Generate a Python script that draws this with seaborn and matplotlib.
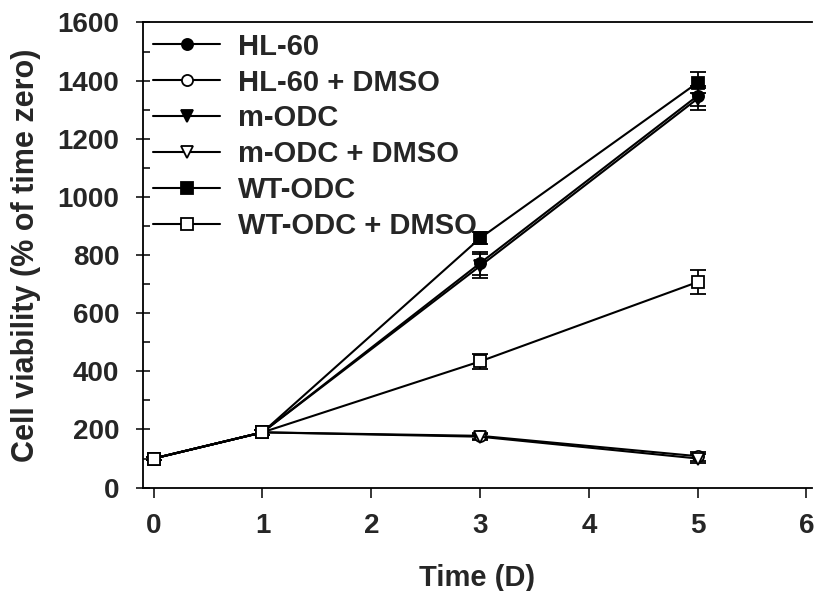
import matplotlib
matplotlib.use("Agg")
import matplotlib.pyplot as plt
import seaborn as sns
import pandas as pd

days = [0, 1, 3, 5]
series_names = ["HL-60", "HL-60 + DMSO", "m-ODC", "m-ODC + DMSO", "WT-ODC", "WT-ODC + DMSO"]
hl60 = [100, 190, 772, 1348]
hl60_dmso = [100, 190, 178, 108]
m_odc = [100, 190, 762, 1338]
m_odc_dmso = [100, 190, 175, 100]
wt_odc = [100, 190, 858, 1393]
wt_odc_dmso = [100, 190, 434, 707]

hl60_err = [5, 8, 40, 35]
hl60_dmso_err = [5, 8, 10, 15]
m_odc_err = [5, 8, 40, 38]
m_odc_dmso_err = [5, 8, 10, 15]
wt_odc_err = [5, 8, 20, 35]
wt_odc_dmso_err = [5, 8, 25, 40]

values = [hl60, hl60_dmso, m_odc, m_odc_dmso, wt_odc, wt_odc_dmso]
errors = [hl60_err, hl60_dmso_err, m_odc_err, m_odc_dmso_err, wt_odc_err, wt_odc_dmso_err]

rows = []
for name, vals, errs in zip(series_names, values, errors):
    for d, v, e in zip(days, vals, errs):
        rows.append({"Time": d, "Viability": v, "err": e, "Cell": name})
df = pd.DataFrame(rows)

sns.set_style("ticks")
plt.rcParams['font.family'] = ['Liberation Sans', 'DejaVu Sans']
plt.rcParams['font.weight'] = 'bold'

marker_map = {"HL-60": "o", "HL-60 + DMSO": "o", "m-ODC": "v", "m-ODC + DMSO": "v",
              "WT-ODC": "s", "WT-ODC + DMSO": "s"}
face_map = {"HL-60": "black", "HL-60 + DMSO": "white", "m-ODC": "black", "m-ODC + DMSO": "white",
            "WT-ODC": "black", "WT-ODC + DMSO": "white"}
size_map = {"o": 8, "v": 9, "s": 9}

fig = plt.figure(figsize=(8.16, 5.91), dpi=100)
ax = fig.add_axes([0.175, 0.175, 0.82, 0.787])

# error bars first, lines and markers on top
for name in series_names:
    sub = df[df["Cell"] == name]
    ax.errorbar(sub["Time"], sub["Viability"], yerr=sub["err"], fmt="none",
                ecolor="black", elinewidth=1.3, capsize=6, capthick=1.3, zorder=2)

for name in series_names:
    sub = df[df["Cell"] == name]
    m = marker_map[name]
    sns.lineplot(data=sub, x="Time", y="Viability", ax=ax, color="black", linewidth=1.5,
                 marker=m, markersize=size_map[m], markerfacecolor=face_map[name],
                 markeredgecolor="black", markeredgewidth=1.3, label=name, zorder=3)

ax.set_xlim(-0.1, 6.05)
ax.set_ylim(0, 1600)
ax.set_xticks([0, 1, 2, 3, 4, 5, 6])
ax.set_yticks(range(0, 1601, 200))
ax.set_yticks(range(100, 1600, 200), minor=True)
ax.tick_params(axis="y", which="major", labelsize=20, length=10, width=1.3,
               direction="inout", pad=12)
ax.tick_params(axis="y", which="minor", length=5, width=1.3, direction="in")
ax.tick_params(axis="x", which="major", labelsize=20, length=7, width=1.3,
               direction="out", pad=11)
for lab in ax.get_xticklabels() + ax.get_yticklabels():
    lab.set_fontweight("bold")

ax.set_xlabel("Time (D)", fontsize=21, fontweight="bold", labelpad=18)
ax.set_ylabel("Cell viability (% of time zero)", fontsize=22, fontweight="bold", labelpad=12)

for side in ["left", "bottom", "top"]:
    ax.spines[side].set_linewidth(1.3)
    ax.spines[side].set_color("black")
ax.spines["right"].set_visible(False)

leg = ax.legend(loc="upper left", frameon=False, fontsize=21, handlelength=2.3,
                handletextpad=0.6, labelspacing=0.27, borderaxespad=0.0, borderpad=0.35,
                bbox_to_anchor=(0.0, 1.0))
for t in leg.get_texts():
    t.set_fontweight("bold")

fig.savefig("out.png", dpi=100)
